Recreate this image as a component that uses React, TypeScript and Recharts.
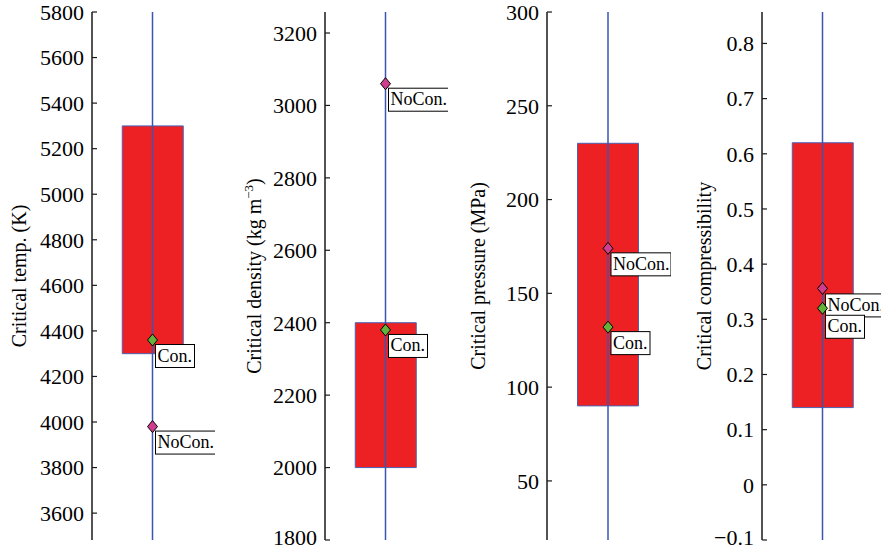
import React from 'react';
import { ComposedChart, Bar, Scatter, XAxis, YAxis, ReferenceLine } from 'recharts';

// ---- data ----
const categoryNames = ['temp', 'density', 'pressure', 'compressibility'];
const titleMain = ['Critical temp. (K)', 'Critical density (kg m', 'Critical pressure (MPa)', 'Critical compressibility'];
const titleSup = ['', '\u22123', '', ''];
const titleTail = ['', ')', '', ''];
const rangeLow = [4300, 2000, 90, 0.14];
const rangeHigh = [5300, 2400, 230, 0.62];
const conValues = [4360, 2380, 132, 0.32];
const noConValues = [3980, 3060, 174, 0.356];
const yDomains: [number, number][] = [[3482, 5800], [1800, 3258], [18.5, 300], [-0.1, 0.857]];
const yTicks: number[][] = [
  [3600, 3800, 4000, 4200, 4400, 4600, 4800, 5000, 5200, 5400, 5600, 5800],
  [1800, 2000, 2200, 2400, 2600, 2800, 3000, 3200],
  [50, 100, 150, 200, 250, 300],
  [-0.1, 0, 0.1, 0.2, 0.3, 0.4, 0.5, 0.6, 0.7, 0.8],
];
const seriesNames = ['Con.', 'NoCon.'];

// ---- layout / style ----
const SERIF = 'Liberation Serif';
const layout = [
  { left: 0, yw: 92, pw: 121, titleDx: -66, decimals: 0, conDy: 4.5, noConDy: 4.5 },
  { left: 230, yw: 95, pw: 121, titleDx: -64, decimals: 0, conDy: 4.5, noConDy: 4.5 },
  { left: 450, yw: 97, pw: 122, titleDx: -62, decimals: 0, conDy: 4.5, noConDy: 4.5 },
  { left: 680, yw: 82, pw: 121, titleDx: -51, decimals: 1, conDy: 7, noConDy: 5.5 },
];
const RED = '#ed2024';
const BLUE = '#3b55b0';
const GREEN = '#63b23a';
const MAGENTA = '#cf3e8e';
const AXIS = '#1a1a1a';
const tagWidths: Record<string, number> = { 'Con.': 39, 'NoCon.': 60 };
const TICK_FONT = 22;
const MAX_LABEL_Y = 537;

const fmt = (decimals: number) => (v: number) => {
  if (decimals === 0) return String(v);
  if (Math.abs(v) < 1e-9) return '0';
  return (v < 0 ? '\u2212' : '') + Math.abs(v).toFixed(decimals);
};

const makeTick = (decimals: number) => (props: any) => {
  const { x, y, payload } = props;
  const yy = Math.min(y, MAX_LABEL_Y);
  return (
    <text x={x} y={yy} dy="0.355em" textAnchor="end" fill="#000" fontSize={TICK_FONT} style={{ fontFamily: SERIF }}>
      {fmt(decimals)(payload.value)}
    </text>
  );
};

const makeShape = (color: string, text: string, tagDy: number) => (props: any) => {
  const { cx, cy } = props;
  if (cx == null || cy == null) return <g />;
  const bx = cx + 3;
  const by = cy + tagDy;
  const w = tagWidths[text] ?? 50;
  return (
    <g>
      <rect x={bx} y={by} width={w} height={23} fill="#fff" stroke="#000" strokeWidth={1} />
      <text x={bx + 2} y={by + 17} style={{ fontFamily: SERIF }} fontSize={18} fill="#000">{text}</text>
      <path d={`M${cx},${cy - 6} L${cx + 5},${cy} L${cx},${cy + 6} L${cx - 5},${cy} Z`} fill={color} stroke="#000" strokeWidth={1} />
    </g>
  );
};

const makeTitle = (i: number) => (props: any) => {
  const vb = props.viewBox || { x: 0, y: 12, width: layout[i].yw, height: 528 };
  const x = vb.x + vb.width + layout[i].titleDx;
  const y = vb.y + vb.height / 2;
  return (
    <text x={x} y={y} transform={`rotate(-90, ${x}, ${y})`} textAnchor="middle" style={{ fontFamily: SERIF }} fontSize={20} fill="#000">
      <tspan>{titleMain[i]}</tspan>
      {titleSup[i] ? <tspan dy={-8} fontSize={13}>{titleSup[i]}</tspan> : null}
      {titleTail[i] ? <tspan dy={titleSup[i] ? 8 : 0}>{titleTail[i]}</tspan> : null}
    </text>
  );
};

function Panel({ i }: { i: number }) {
  const L = layout[i];
  const data = [{ name: categoryNames[i], range: [rangeLow[i], rangeHigh[i]], con: conValues[i], nocon: noConValues[i] }];
  const width = L.yw + L.pw + 2;
  return (
    <div style={{ position: 'absolute', left: L.left, top: 0 }}>
      <ComposedChart width={width} height={546} data={data} margin={{ top: 12, right: 2, bottom: 6, left: 0 }} barCategoryGap="25%" style={{ fontFamily: SERIF }}>
        <XAxis dataKey="name" type="category" height={0} tick={false} tickLine={false} axisLine={{ stroke: AXIS, strokeWidth: 1.5 }} />
        <XAxis xAxisId="t" dataKey="name" type="category" orientation="top" height={0} tick={false} tickLine={false} axisLine={{ stroke: AXIS, strokeWidth: 1.5 }} />
        <YAxis
          type="number"
          domain={yDomains[i]}
          ticks={yTicks[i]}
          interval={0}
          allowDataOverflow
          width={L.yw}
          tickSize={-5}
          tickMargin={13}
          tick={makeTick(L.decimals)}
          tickLine={{ stroke: AXIS, strokeWidth: 1.2 }}
          axisLine={{ stroke: AXIS, strokeWidth: 1.5 }}
          label={makeTitle(i)}
        />
        <YAxis
          yAxisId="r"
          orientation="right"
          type="number"
          domain={yDomains[i]}
          ticks={yTicks[i]}
          interval={0}
          allowDataOverflow
          width={0}
          tickSize={-5}
          tick={false}
          tickLine={{ stroke: AXIS, strokeWidth: 1.2 }}
          axisLine={{ stroke: AXIS, strokeWidth: 1.5 }}
        />
        <Bar dataKey="range" fill={RED} stroke="#4a62b5" strokeWidth={1} isAnimationActive={false} />
        <ReferenceLine x={categoryNames[i]} stroke={BLUE} strokeWidth={1.5} />
        <Scatter name={seriesNames[1]} dataKey="nocon" fill={MAGENTA} shape={makeShape(MAGENTA, seriesNames[1], L.noConDy)} isAnimationActive={false} />
        <Scatter name={seriesNames[0]} dataKey="con" fill={GREEN} shape={makeShape(GREEN, seriesNames[0], L.conDy)} isAnimationActive={false} />
      </ComposedChart>
    </div>
  );
}

export default function App() {
  return (
    <div style={{ position: 'absolute', left: 0, top: 0, width: 881, height: 546, overflow: 'hidden', background: '#fff', fontFamily: SERIF }}>
      {[0, 1, 2, 3].map((i) => (
        <Panel key={i} i={i} />
      ))}
    </div>
  );
}
